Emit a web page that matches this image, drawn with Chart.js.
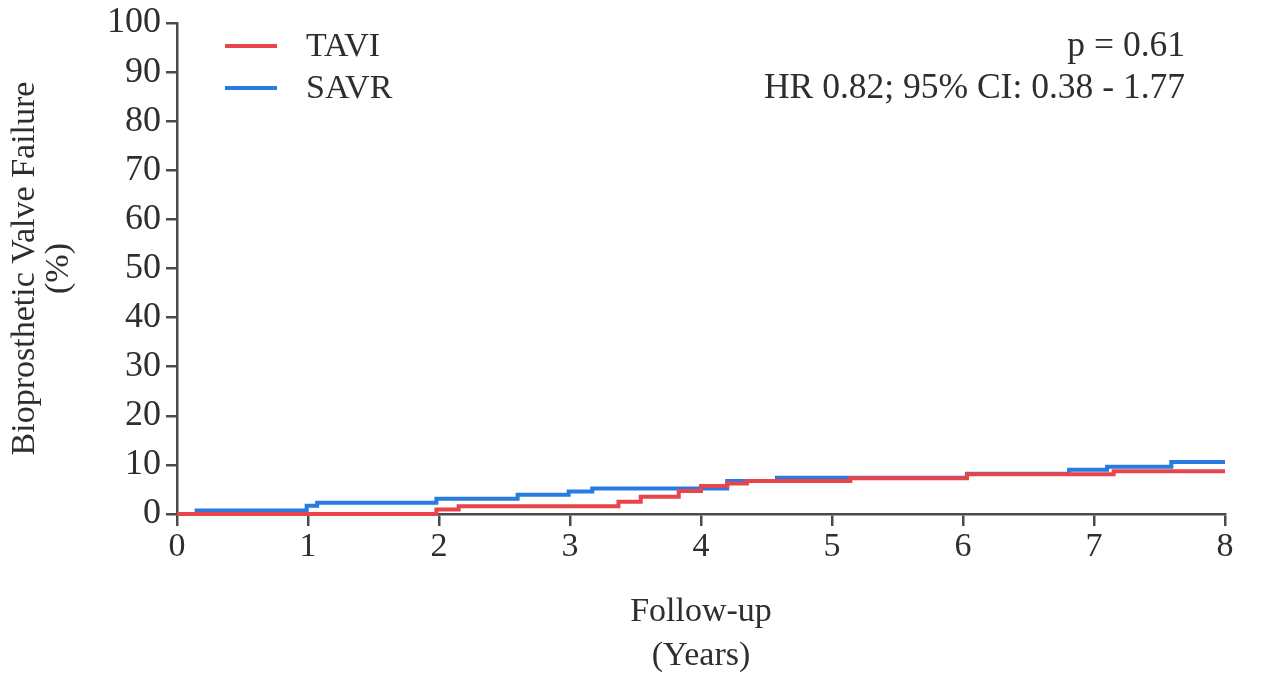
<!DOCTYPE html>
<html>
<head>
<meta charset="utf-8">
<title>Biprosthetic valve failure</title>
<script src="https://cdn.jsdelivr.net/npm/chart.js@4.4.1/dist/chart.umd.min.js"></script>
<style>
  body { margin: 0; background: #fff; }
  #wrap { width: 1263px; height: 678px; }
</style>
</head>
<body>
<div id="wrap"><canvas id="kmChart" width="1263" height="678"></canvas></div>
<script>
// values (years, cumulative %)
const tickYears = [0, 1, 2, 3, 4, 5, 6, 7, 8];
const tickPercent = [0, 10, 20, 30, 40, 50, 60, 70, 80, 90, 100];

const taviYears   = [0, 1.98, 2.15, 3.37, 3.54, 3.83, 4.0, 4.2, 4.35, 5.14, 6.03, 7.15, 8.0];
const taviPercent = [0, 0.9, 1.6, 2.5, 3.5, 4.7, 5.7, 6.2, 6.7, 7.3, 8.1, 8.7, 8.7];

const savrYears   = [0, 0.15, 0.99, 1.07, 1.98, 2.6, 2.99, 3.17, 4.2, 4.58, 6.03, 6.81, 7.1, 7.59, 8.0];
const savrPercent = [0, 0.7, 1.7, 2.3, 3.1, 3.9, 4.6, 5.2, 6.7, 7.4, 8.2, 9.0, 9.6, 10.6, 10.6];

const seriesNames = ['TAVI', 'SAVR'];
const statLines = ['p = 0.61', 'HR 0.82; 95% CI: 0.38 - 1.77'];

const toPoints = (xs, ys) => xs.map((x, i) => ({ x: x, y: ys[i] }));

const serif = 'Liberation Serif';
const axisGrey = '#4a4a4a';
const textGrey = '#2e2e2e';
const fontSize = 34;

// legend + stats text drawn inside the plot
const overlayText = {
    id: 'overlayText',
    afterDraw(chart) {
        const ctx = chart.ctx;
        ctx.save();
        ctx.font = fontSize + 'px "' + serif + '"';
        ctx.textBaseline = 'middle';
        ctx.fillStyle = textGrey;
        chart.data.datasets.forEach((ds, i) => {
            const y = 46 + i * 42;
            ctx.strokeStyle = ds.borderColor;
            ctx.lineWidth = 4;
            ctx.beginPath();
            ctx.moveTo(225, y);
            ctx.lineTo(277, y);
            ctx.stroke();
            ctx.textAlign = 'left';
            ctx.fillText(ds.label, 306, y + 1);
        });
        ctx.font = '35.5px "' + serif + '"';
        ctx.textAlign = 'right';
        statLines.forEach((t, i) => ctx.fillText(t, 1185, 47 + i * 42));
        ctx.restore();
    }
};

new Chart(document.getElementById('kmChart'), {
    type: 'line',
    data: {
        datasets: [{
            label: seriesNames[0],
            data: toPoints(taviYears, taviPercent),
            borderColor: '#e8444c',
            borderWidth: 4,
            stepped: 'before',
            pointRadius: 0,
            clip: false,
            fill: false
        }, {
            label: seriesNames[1],
            data: toPoints(savrYears, savrPercent),
            borderColor: '#2a7be0',
            borderWidth: 4,
            stepped: 'before',
            pointRadius: 0,
            clip: false,
            fill: false
        }]
    },
    options: {
        responsive: false,
        animation: false,
        layout: { padding: { top: 0, right: 38, bottom: 0, left: 8 } },
        plugins: {
            legend: { display: false },
            tooltip: { enabled: false }
        },
        scales: {
            x: {
                type: 'linear',
                min: tickYears[0],
                max: tickYears[tickYears.length - 1],
                afterBuildTicks: s => { s.ticks = tickYears.map(v => ({ value: v })); },
                afterFit: s => { s.height = 164; },
                border: { color: axisGrey, width: 2.5 },
                grid: { drawOnChartArea: false, color: axisGrey, lineWidth: 2.5, tickLength: 12 },
                ticks: { color: textGrey, padding: 4, font: { family: serif, size: fontSize, lineHeight: 1 } },
                title: {
                    display: true,
                    text: ['Follow-up', '(Years)'],
                    color: textGrey,
                    padding: { top: 30, bottom: 0 },
                    font: { family: serif, size: fontSize, lineHeight: 1.3 }
                }
            },
            y: {
                min: tickPercent[0],
                max: tickPercent[tickPercent.length - 1],
                afterBuildTicks: s => { s.ticks = tickPercent.map(v => ({ value: v })); },
                afterFit: s => { s.width = 169; },
                border: { color: axisGrey, width: 2.5 },
                grid: { drawOnChartArea: false, color: axisGrey, lineWidth: 2.5, tickLength: 11 },
                ticks: { color: textGrey, padding: 5, font: { family: serif, size: 36, lineHeight: 1 } },
                title: {
                    display: true,
                    text: ['Bioprosthetic Valve Failure', '(%)'],
                    color: textGrey,
                    padding: { top: 0, bottom: 0 },
                    font: { family: serif, size: fontSize, lineHeight: 1.0 }
                }
            }
        }
    },
    plugins: [overlayText]
});
</script>
</body>
</html>
